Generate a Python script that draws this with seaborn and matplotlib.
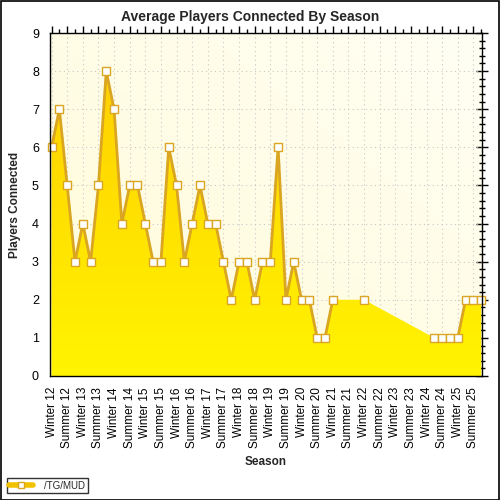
import numpy as np
import pandas as pd
import matplotlib
matplotlib.use("Agg")
import matplotlib.pyplot as plt
from matplotlib.colors import LinearSegmentedColormap
from matplotlib.patches import Rectangle
from matplotlib.lines import Line2D
import seaborn as sns

# ---- data ----
season_labels = ["Winter 12", "Summer 12", "Winter 13", "Summer 13", "Winter 14", "Summer 14",
                 "Winter 15", "Summer 15", "Winter 16", "Summer 16", "Winter 17", "Summer 17",
                 "Winter 18", "Summer 18", "Winter 19", "Summer 19", "Winter 20", "Summer 20",
                 "Winter 21", "Summer 21", "Winter 22", "Summer 22", "Winter 23", "Summer 23",
                 "Winter 24", "Summer 24", "Winter 25", "Summer 25"]
players = [6, 7, 5, 3, 4, 3, 5, 8, 7, 4,
           5, 5, 4, 3, 3, 6, 5, 3, 4, 5,
           4, 4, 3, 2, 3, 3, 2, 3, 3, 6,
           2, 3, 2, 2, 1, 1, 2, np.nan, np.nan, np.nan,
           2, np.nan, np.nan, np.nan, np.nan, np.nan, np.nan, np.nan, np.nan, 1,
           1, 1, 1, 2, 2, 2]
series_name = "/TG/MUD"

x = np.arange(len(players))
y = np.array(players, dtype=float)
valid = ~np.isnan(y)
seg = np.cumsum(~valid)  # segment id changes at gaps
df = pd.DataFrame({"x": x, "y": y, "seg": seg})
dfv = df[valid]

sns.set_style("white")
plt.rcParams['font.family'] = ['Liberation Sans', 'DejaVu Sans']

fig = plt.figure(figsize=(5, 5), dpi=100)
ax = fig.add_axes([0.10, 0.248, 0.864, 0.686])

xmin, xmax, ymin, ymax = -0.2, 55.1, 0, 9
ax.set_xlim(xmin, xmax)
ax.set_ylim(ymin, ymax)

# background gradient
bg_cmap = LinearSegmentedColormap.from_list("bg", ["#FFFBD8", "#FFFFF4"])
gx, gy = np.meshgrid(np.linspace(0, 1, 200), np.linspace(0, 1, 200))
ax.imshow((gx + gy) / 2, cmap=bg_cmap, extent=[xmin, xmax, ymin, ymax], origin="lower",
          aspect="auto", zorder=0, interpolation="bilinear")

# grid
for xi in range(0, len(players), 2):
    ax.axvline(xi, color="#C8C8C8", lw=0.8, ls=(0, (1, 3)), zorder=1)
for yi in range(1, 9):
    ax.axhline(yi, color="#C8C8C8", lw=0.8, ls=(0, (1, 3)), zorder=1)

# area with gradient
poly = ax.fill_between(dfv["x"], dfv["y"], 0, color="none", lw=0, zorder=2)
fill_cmap = LinearSegmentedColormap.from_list("fill", ["#FFF400", "#FFD000"])
grad = np.linspace(0, 1, 256).reshape(-1, 1)
im = ax.imshow(grad, cmap=fill_cmap, extent=[xmin, xmax, 0, 8], origin="lower",
               aspect="auto", zorder=2, interpolation="bilinear")
im.set_clip_path(poly.get_paths()[0], transform=ax.transData)
ax.set_xlim(xmin, xmax)
ax.set_ylim(ymin, ymax)

# line + markers
sns.lineplot(data=dfv, x="x", y="y", units="seg", estimator=None, ax=ax,
             color="#DAA520", lw=2, marker="s", markersize=5.6,
             markerfacecolor="white", markeredgecolor="#DAA520", markeredgewidth=1,
             zorder=4, legend=False)
for l in ax.lines:
    l.set_clip_on(False)

# ticks
ax.set_xticks(range(0, len(players), 2))
ax.set_xticks(range(1, len(players), 2), minor=True)
ax.set_xticklabels(season_labels, rotation=90, fontsize=8.5)
ax.set_yticks(range(0, 10))
ax.set_yticks(np.arange(0, 9.01, 0.2), minor=True)
ax.tick_params(axis="y", which="major", direction="inout", length=8, width=1, labelsize=9, pad=4, right=True)
ax.tick_params(axis="y", which="minor", direction="inout", length=4, width=1, right=True)
ax.tick_params(axis="x", which="major", direction="out", length=5, width=1, top=True, pad=3)
ax.tick_params(axis="x", which="minor", direction="out", length=3, width=1, top=True)
ax.tick_params(which="both", colors="black")
for sp in ax.spines.values():
    sp.set_color("black")
    sp.set_linewidth(1)
    sp.set_zorder(5)

ax.set_xlabel("Season", fontsize=8.5, fontweight="bold", labelpad=6)
ax.set_ylabel("Players Connected", fontsize=8.5, fontweight="bold", labelpad=8)
fig.text(0.5, 0.966, "Average Players Connected By Season", ha="center", va="center",
         fontsize=10, fontweight="bold")

# legend
handle = Line2D([0], [0], color="#F2C200", lw=4, marker="s", markersize=5,
                markerfacecolor="white", markeredgecolor="#DAA520", markeredgewidth=1)
leg = fig.legend([handle], [series_name], loc="lower left", bbox_to_anchor=(0.01, 0.01),
                 fontsize=7, frameon=True, fancybox=False, edgecolor="black",
                 handlelength=2.4, borderpad=0.25, handletextpad=1.2, borderaxespad=0.2)
leg.get_frame().set_linewidth(1)

# outer border
fig.patches.append(Rectangle((0.001, 0.001), 0.997, 0.997, transform=fig.transFigure,
                             fill=False, edgecolor="black", lw=1.2))

fig.savefig("out.png", dpi=100)
